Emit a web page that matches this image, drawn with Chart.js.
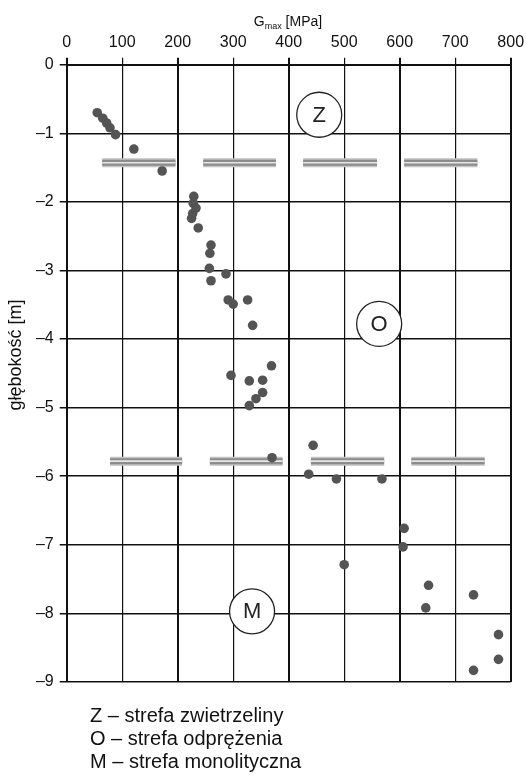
<!DOCTYPE html>
<html>
<head>
<meta charset="utf-8">
<script src="https://cdn.jsdelivr.net/npm/chart.js@4.4.1/dist/chart.umd.min.js"></script>
<style>
  body { margin: 0; background: #fff; }
  #wrap { position: relative; width: 526px; height: 779px; }
</style>
</head>
<body>
<div id="wrap"><canvas id="chart" width="526" height="779"></canvas></div>
<script>
// measured points: Gmax [MPa] vs depth [m]
const gmax = [55, 65, 72, 78, 88, 121, 172, 229, 228, 233, 227, 225, 237, 260, 258, 257, 260, 287, 291, 300,
              326, 335, 369, 296, 329, 353, 353, 341, 329, 370, 444, 436, 486, 568, 608, 606, 500, 652, 647, 733,
              778, 778, 733];
const depth = [-0.70, -0.78, -0.85, -0.92, -1.02, -1.23, -1.55, -1.92, -2.02, -2.09, -2.17, -2.24, -2.38, -2.63, -2.75, -2.97, -3.15, -3.05, -3.43, -3.49,
               -3.43, -3.80, -4.39, -4.53, -4.61, -4.60, -4.78, -4.87, -4.97, -5.73, -5.55, -5.97, -6.04, -6.04, -6.76, -7.03, -7.29, -7.59, -7.92, -7.73,
               -8.31, -8.67, -8.83];

// zone boundaries (double grey dashes)
const bandDepths = [-1.43, -5.78];
const bandStarts = [[64, 246, 426, 608], [78, 258, 440, 621]];
const bandEnds = [[196, 377, 559, 740], [208, 389, 572, 753]];

// zone markers
const zoneLetters = ['Z', 'O', 'M'];
const zoneX = [455, 563, 334];
const zoneY = [-0.73, -3.78, -7.97];
const zoneNames = ['strefa zwietrzeliny', 'strefa odprężenia', 'strefa monolityczna'];

const FONT = "'Liberation Sans', Arial, sans-serif";

function bandData() {
    const pts = [];
    bandDepths.forEach((d, r) => {
        bandStarts[r].forEach((a, i) => {
            pts.push({ x: a, y: d }, { x: bandEnds[r][i], y: d }, { x: bandEnds[r][i], y: null });
        });
    });
    return pts;
}

function bandLayer(width, color, order) {
    return {
        type: 'line',
        data: bandData(),
        borderColor: color,
        borderWidth: width,
        borderCapStyle: 'butt',
        pointRadius: 0,
        spanGaps: false,
        order: order
    };
}

const extras = {
    id: 'extras',
    afterDatasetsDraw(chart) {
        const ctx = chart.ctx;
        const xs = chart.scales.x, ys = chart.scales.y;
        ctx.save();
        ctx.fillStyle = '#222';
        ctx.font = '22px ' + FONT;
        ctx.textAlign = 'center';
        ctx.textBaseline = 'middle';
        zoneLetters.forEach((l, i) => {
            ctx.fillText(l, xs.getPixelForValue(zoneX[i]), ys.getPixelForValue(zoneY[i]) + 1);
        });
        ctx.restore();
    },
    afterDraw(chart) {
        const ctx = chart.ctx;
        ctx.save();
        ctx.fillStyle = '#111';
        // x title with subscript
        ctx.textBaseline = 'alphabetic';
        ctx.textAlign = 'left';
        const g = 'G', rest = ' [MPa]';
        ctx.font = '9px ' + FONT;
        const wSub = ctx.measureText('max').width;
        ctx.font = '14px ' + FONT;
        const wG = ctx.measureText(g).width, wR = ctx.measureText(rest).width;
        let x0 = 288 - (wG + wSub + wR) / 2;
        ctx.fillText(g, x0, 26);
        ctx.font = '9px ' + FONT;
        ctx.fillText('max', x0 + wG, 29);
        ctx.font = '14px ' + FONT;
        ctx.fillText(rest, x0 + wG + wSub, 26);
        // y title
        ctx.save();
        ctx.translate(21, 355);
        ctx.rotate(-Math.PI / 2);
        ctx.textAlign = 'center';
        ctx.font = '18px ' + FONT;
        ctx.fillText('głębokość [m]', 0, 0);
        ctx.restore();
        // zone legend
        ctx.font = '20px ' + FONT;
        zoneLetters.forEach((l, i) => {
            const y = 722 + i * 23;
            ctx.fillText(l, 90, y);
            const w = ctx.measureText(l).width;
            ctx.fillText(' – ' + zoneNames[i], 90 + w, y);
        });
        ctx.restore();
    }
};

new Chart(document.getElementById('chart'), {
    type: 'scatter',
    data: {
        datasets: [
            {
                data: zoneX.map((x, i) => ({ x: x, y: zoneY[i] })),
                pointRadius: 22.5,
                pointBackgroundColor: '#fff',
                pointBorderColor: '#222',
                pointBorderWidth: 1.3,
                order: 0
            },
            {
                data: gmax.map((x, i) => ({ x: x, y: depth[i] })),
                pointRadius: 4.8,
                pointBackgroundColor: '#545454',
                pointBorderWidth: 0,
                order: 1
            },
            bandLayer(1.6, '#e6e6e6', 3),
            bandLayer(6, '#8c8c8c', 4),
            bandLayer(9, '#c2c2c2', 5)
        ]
    },
    options: {
        responsive: false,
        animation: false,
        devicePixelRatio: 1,
        layout: { autoPadding: false, padding: { left: 0, right: 15.3, top: 0, bottom: 97 } },
        plugins: { legend: { display: false }, tooltip: { enabled: false } },
        scales: {
            x: {
                type: 'linear',
                position: 'top',
                min: 0,
                max: 800,
                afterFit: s => { s.height = 64.7; s.paddingLeft = 0; s.paddingRight = 0; },
                ticks: { stepSize: 100, color: '#111', font: { family: FONT, size: 16 }, padding: 6 },
                grid: {
                    color: '#111',
                    lineWidth: c => (c.tick && c.tick.value % 200 === 0) ? 2 : 1.2,
                    tickLength: 7
                },
                border: { color: '#111', width: 2 }
            },
            y: {
                type: 'linear',
                min: -9,
                max: 0,
                afterFit: s => { s.width = 66.7; s.paddingTop = 0; s.paddingBottom = 0; },
                ticks: {
                    stepSize: 1,
                    color: '#111',
                    font: { family: FONT, size: 16 },
                    padding: 6,
                    callback: v => v === 0 ? '0' : '–' + Math.abs(v)
                },
                grid: { color: '#111', lineWidth: 1.5, tickLength: 7 },
                border: { color: '#111', width: 2 }
            }
        }
    },
    plugins: [extras]
});
</script>
</body>
</html>
